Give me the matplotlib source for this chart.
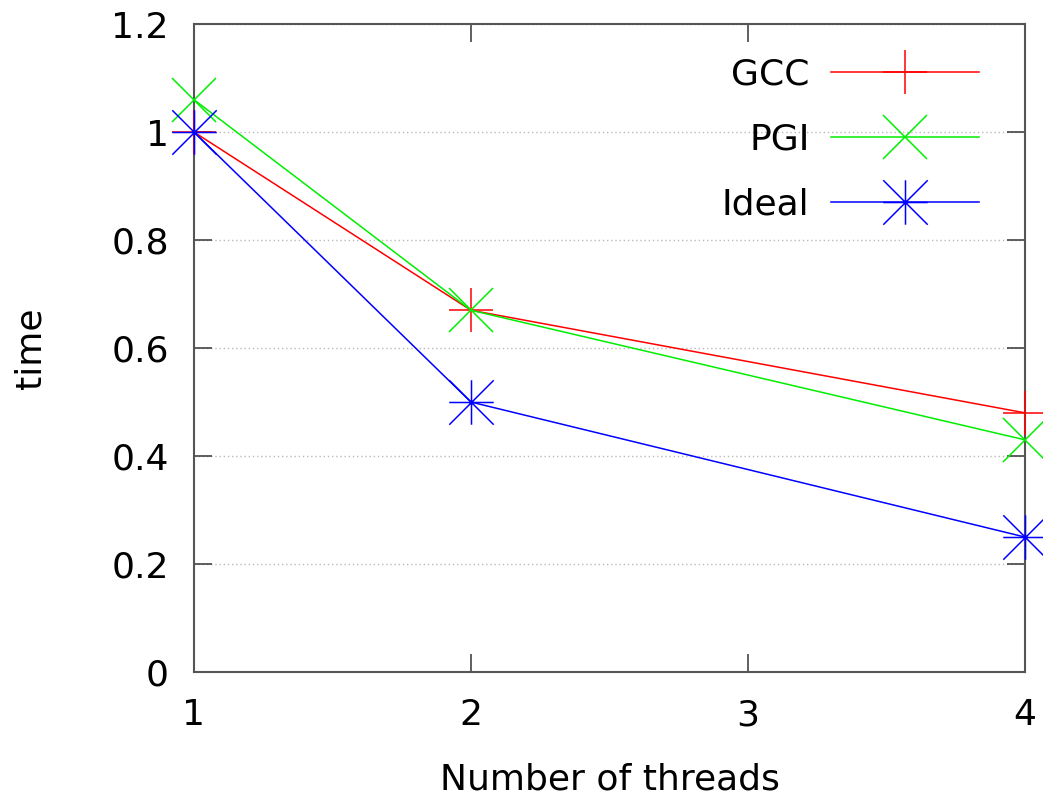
import matplotlib
matplotlib.use("Agg")
import matplotlib.pyplot as plt
from matplotlib.path import Path

threads = [1, 2, 4]
gcc = [1.0, 0.67, 0.48]
pgi = [1.06, 0.67, 0.43]
ideal = [1.0, 0.5, 0.25]

xticks = [1, 2, 3, 4]
yticks = [0, 0.2, 0.4, 0.6, 0.8, 1.0, 1.2]
ytick_labels = ["0", "0.2", "0.4", "0.6", "0.8", "1", "1.2"]

# gnuplot style asterisk: plus and cross together
star = Path([(-1, 0), (1, 0), (0, -1), (0, 1), (-1, -1), (1, 1), (-1, 1), (1, -1)],
            [Path.MOVETO, Path.LINETO] * 4)

plt.rcParams['font.family'] = 'DejaVu Sans'
fig = plt.figure(figsize=(10.43, 7.97), dpi=100)
ax = fig.add_axes([0.1860, 0.1568, 0.7967, 0.8130])

ms = 32
ax.plot(threads, gcc, color='#ff0000', lw=1.1, marker='+', ms=ms, mew=1.1,
        label='GCC', clip_on=False, zorder=3)
ax.plot(threads, pgi, color='#00ee00', lw=1.1, marker='x', ms=ms, mew=1.1,
        label='PGI', clip_on=False, zorder=3)
ax.plot(threads, ideal, color='#0000ff', lw=1.1, marker=star, ms=ms, mew=1.1,
        label='Ideal', clip_on=False, zorder=3)

ax.set_xlim(1, 4)
ax.set_ylim(0, 1.2)
ax.set_xticks(xticks)
ax.set_yticks(yticks)
ax.set_yticklabels(ytick_labels)

for s in ax.spines.values():
    s.set_color('#555555')
    s.set_linewidth(1.5)

ax.tick_params(direction='in', length=13, width=1.2, color='#444444',
               labelsize=26, top=True, right=True)
ax.tick_params(axis='y', pad=18)
ax.tick_params(axis='x', pad=19)

ax.yaxis.grid(True, linestyle=(0, (1, 2)), color='#bbbbbb', lw=1)
ax.set_axisbelow(True)

ax.set_xlabel('Number of threads', fontsize=26, labelpad=22)
ax.set_ylabel('time', fontsize=26, labelpad=46)

ax.legend(loc='upper right', bbox_to_anchor=(0.984, 0.998), frameon=False,
          markerfirst=False, fontsize=26, handlelength=4.1, labelspacing=0.85,
          handletextpad=0.6, numpoints=1)

fig.savefig('out.png', dpi=100)
